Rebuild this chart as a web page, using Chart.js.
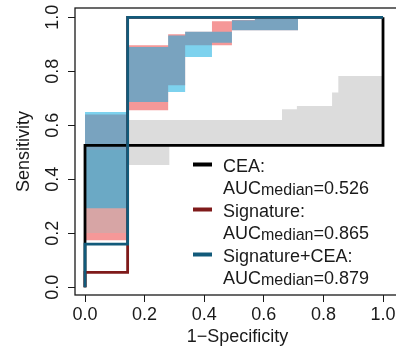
<!DOCTYPE html>
<html>
<head>
<meta charset="utf-8">
<script src="https://cdn.jsdelivr.net/npm/chart.js@4.4.1/dist/chart.umd.min.js"></script>
<style>
  html, body { margin: 0; padding: 0; background: #fff; overflow: hidden; }
  #wrap { position: relative; width: 400px; height: 356px; }
</style>
</head>
<body>
<div id="wrap"><canvas id="roc" width="400" height="356"></canvas></div>
<script>
// ROC curves: x = 1-specificity, y = sensitivity
const ceaFpr = [0, 0, 1, 1];
const ceaTpr = [0, 0.526, 0.526, 1];
const sigFpr = [0, 0, 0.143, 0.143, 1];
const sigTpr = [0, 0.055, 0.055, 1, 1];
const comboFpr = [0, 0, 0.143, 0.143, 1];
const comboTpr = [0, 0.16, 0.16, 1, 1];

// CI of sensitivity (step shapes), lower / upper
const ceaCiX = [0, 0.143, 0.283, 0.661, 0.711, 0.829, 0.85, 1];
const ceaCiLow = [0.201, 0.453, 0.526, 0.526, 0.526, 0.526, 0.526, 0.526];
const ceaCiHigh = [0.509, 0.62, 0.62, 0.659, 0.671, 0.721, 0.783, 0.783];

const sigCiX = [0, 0.143, 0.279, 0.336, 0.426, 0.493, 0.57, 0.715];
const sigCiLow = [0.174, 0.656, 0.748, 0.896, 0.896, 0.952, 0.952, 1];
const sigCiHigh = [0.64, 0.896, 0.937, 0.946, 0.985, 0.99, 0.995, 1];

const comboCiX = [0, 0.143, 0.279, 0.336, 0.426, 0.493, 0.57, 0.715];
const comboCiLow = [0.293, 0.686, 0.723, 0.853, 0.906, 0.952, 0.952, 1];
const comboCiHigh = [0.649, 0.89, 0.933, 0.946, 0.946, 0.989, 0.995, 1];

const modelNames = ["CEA", "Signature", "Signature+CEA"];
const aucMedian = [0.526, 0.865, 0.879];

const xTicks = [0, 0.2, 0.4, 0.6, 0.8, 1.0];
const yTicks = [0, 0.2, 0.4, 0.6, 0.8, 1.0];

const FONT = "'Liberation Sans', Arial, Helvetica, sans-serif";
const INK = "#1a1a1a";
const lineColors = ["#000000", "#7f1a1a", "#125a7a"];

function pts(xs, ys) {
  return xs.map((x, i) => ({ x: x, y: ys[i] }));
}

// upper edge fills down to the lower edge
function band(xs, lo, hi, color, order) {
  return [
    { data: pts(xs, hi), stepped: true, fill: "+1", backgroundColor: color,
      borderColor: "rgba(0,0,0,0)", borderWidth: 0, pointRadius: 0, order: order },
    { data: pts(xs, lo), stepped: true, fill: false,
      borderColor: "rgba(0,0,0,0)", borderWidth: 0, pointRadius: 0, order: order },
  ];
}

function curve(xs, ys, color, order) {
  return { data: pts(xs, ys), borderColor: color, borderWidth: 2.8, pointRadius: 0,
    fill: false, tension: 0, borderJoinStyle: "miter", order: order };
}

const datasets = [
  ...band(sigCiX, sigCiLow, sigCiHigh, "rgb(245,152,152)", 30),
  ...band(ceaCiX, ceaCiLow, ceaCiHigh, "rgba(181,181,181,0.47)", 20),
  ...band(comboCiX, comboCiLow, comboCiHigh, "rgba(19,173,224,0.55)", 10),
  curve(ceaFpr, ceaTpr, lineColors[0], 3),
  curve(sigFpr, sigTpr, lineColors[1], 2),
  curve(comboFpr, comboTpr, lineColors[2], 1),
];

// box around the plot region
const framePlugin = {
  id: "frame",
  afterDraw(chart) {
    const a = chart.chartArea;
    const ctx = chart.ctx;
    ctx.save();
    ctx.strokeStyle = INK;
    ctx.lineWidth = 1.3;
    ctx.strokeRect(a.left, a.top, a.right - a.left, a.bottom - a.top);
    ctx.restore();
  },
};

// legend with AUC[median] on a second line
const aucLegend = {
  id: "aucLegend",
  afterDatasetsDraw(chart) {
    const ctx = chart.ctx;
    const x0 = 193, x1 = 212, tx = 223;
    let base = 171.5;
    ctx.save();
    ctx.fillStyle = INK;
    ctx.textBaseline = "alphabetic";
    ctx.textAlign = "left";
    modelNames.forEach((name, i) => {
      ctx.strokeStyle = lineColors[i];
      ctx.lineWidth = 4;
      ctx.beginPath();
      ctx.moveTo(x0, base - 7);
      ctx.lineTo(x1, base - 7);
      ctx.stroke();

      ctx.font = "18px " + FONT;
      ctx.fillText(name + ":", tx, base);

      const b2 = base + 22.5;
      let w = 0;
      ctx.fillText("AUC", tx, b2);
      w += ctx.measureText("AUC").width;
      ctx.font = "16px " + FONT;
      ctx.fillText("median", tx + w, b2 + 1);
      w += ctx.measureText("median").width;
      ctx.font = "18px " + FONT;
      ctx.fillText("=" + aucMedian[i].toFixed(3), tx + w, b2);
      base += 45;
    });
    ctx.restore();
  },
};

new Chart(document.getElementById("roc").getContext("2d"), {
  type: "line",
  data: { datasets: datasets },
  options: {
    responsive: false,
    animation: false,
    devicePixelRatio: 1,
    layout: { padding: { top: 8, left: 0, right: 0, bottom: 0 } },
    plugins: { legend: { display: false }, tooltip: { enabled: false } },
    scales: {
      x: {
        type: "linear",
        min: -0.0336,
        max: 1.057,
        afterBuildTicks: (s) => { s.ticks = xTicks.map((v) => ({ value: v })); },
        afterFit: (s) => { s.height = 61; s.paddingLeft = 0; s.paddingRight = 0; },
        grid: { drawOnChartArea: false, drawTicks: true, tickLength: 7, color: INK, lineWidth: 1 },
        border: { display: false },
        ticks: {
          autoSkip: false, maxRotation: 0, padding: 2, color: INK,
          font: { family: FONT, size: 18 },
          callback: (v) => Number(v).toFixed(1),
        },
        title: {
          display: true, text: "1\u2212Specificity", color: INK,
          font: { family: FONT, size: 18 }, padding: { top: 0, bottom: 8 },
        },
      },
      y: {
        type: "linear",
        min: -0.0285,
        max: 1.0344,
        afterBuildTicks: (s) => { s.ticks = yTicks.map((v) => ({ value: v })); },
        afterFit: (s) => { s.width = 75; s.paddingTop = 0; s.paddingBottom = 0; },
        grid: { drawOnChartArea: false, drawTicks: true, tickLength: 7, color: INK, lineWidth: 1 },
        border: { display: false },
        ticks: {
          autoSkip: false, minRotation: 90, maxRotation: 90, crossAlign: "center",
          padding: 2.5, color: INK, font: { family: FONT, size: 18 },
          callback: (v) => Number(v).toFixed(1),
        },
        title: {
          display: true, text: "Sensitivity", color: INK,
          font: { family: FONT, size: 18 }, padding: { top: 13, bottom: 0 },
        },
      },
    },
  },
  plugins: [framePlugin, aucLegend],
});
</script>
</body>
</html>
